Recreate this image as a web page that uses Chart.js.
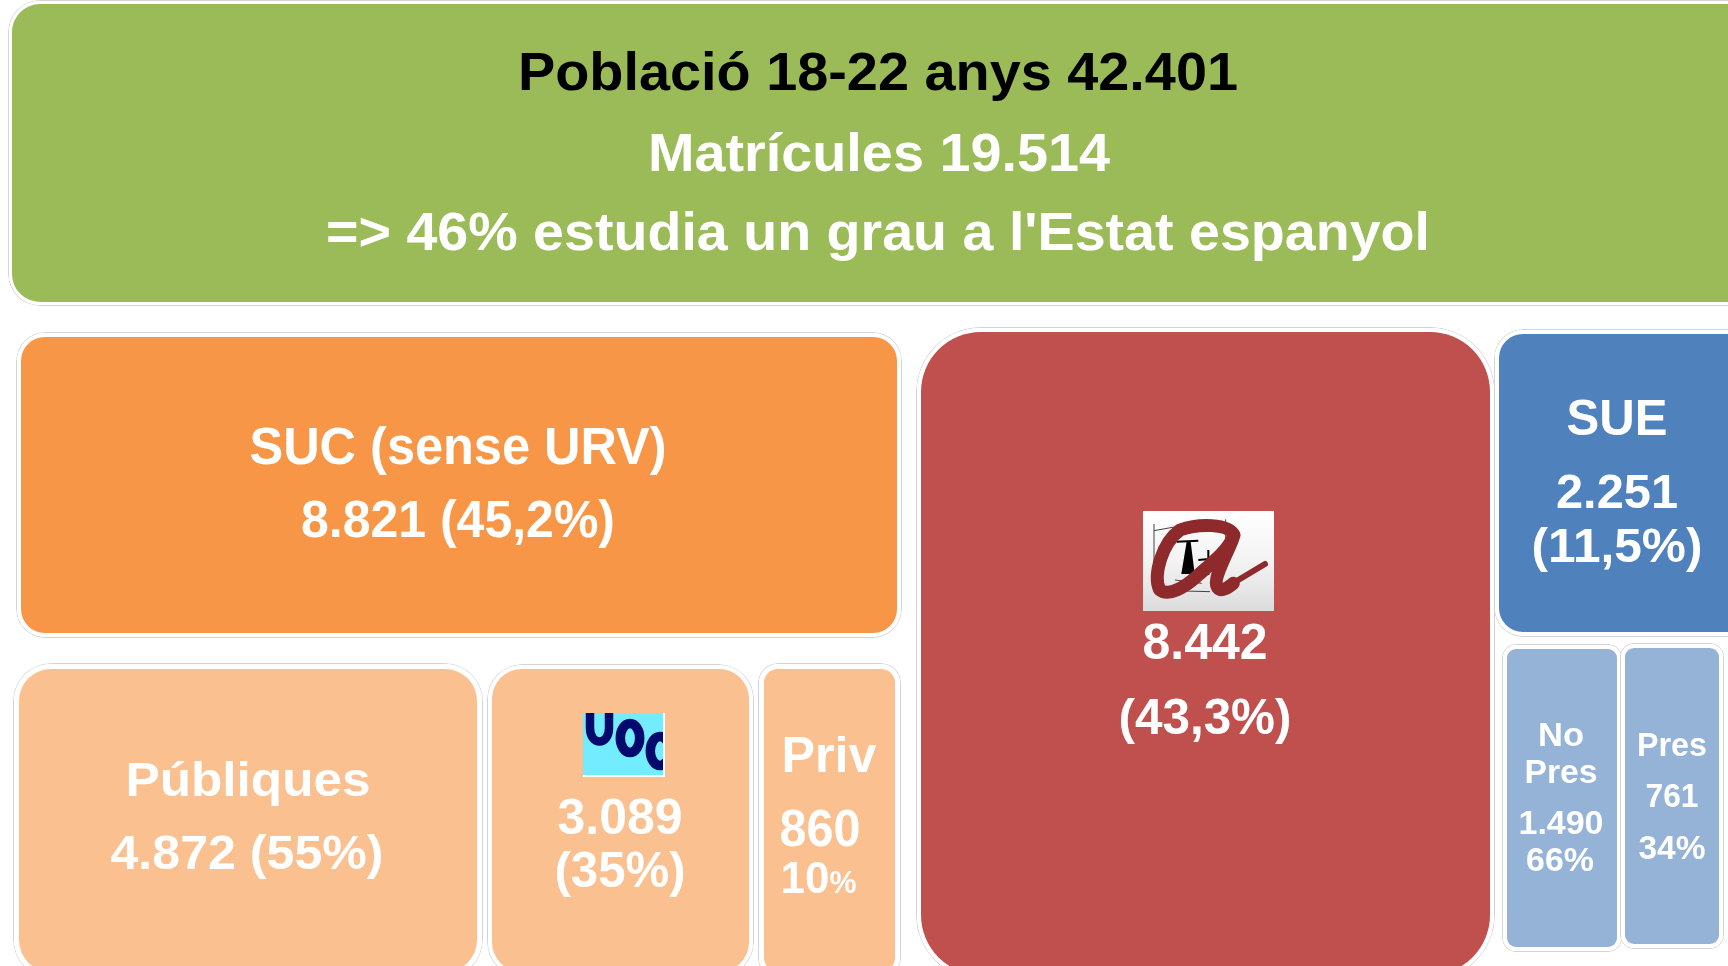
<!DOCTYPE html>
<html>
<head>
<meta charset="utf-8">
<style>html,body{margin:0;padding:0;background:#fff;overflow:hidden}canvas{display:block}</style>
<script src="https://cdn.jsdelivr.net/npm/chart.js@4"></script>
</head>
<body>
<canvas id="c" width="1728" height="966"></canvas>
<script>
// ---- values ----
const poblacio = 42401;
const matricules = 19514;
const quotaEstat = 46;
const categories = ['Total','SUC','Públiques','UOC','Priv','URV','SUE','No Pres','Pres'];
const enrolment = [19514, 8821, 4872, 3089, 860, 8442, 2251, 1490, 761];
const shareLabels = ['', '45,2%', '55%', '35%', '10%', '43,3%', '11,5%', '66%', '34%'];

// ---- layout of the cells, in units of the hidden grid scales (the treemap is not to scale) ----
const cellLeft   = [12, 21, 19, 492, 764, 921, 1499, 1507, 1625];
const cellRight  = [1760, 897, 477, 749, 895, 1490, 1760, 1617, 1719];
const cellTop    = [4, 337, 669, 669, 669, 332, 334, 649, 648];
const cellBottom = [302, 633, 972, 972, 972, 975, 632, 947, 944];
const cellRadius = [28, 24, 32, 30, 14, 60, 24, 9, 9];
const cellColor  = ['#9BBB59','#F79646','#FAC090','#FAC090','#FAC090','#C0504D','#4F81BD','#95B3D7','#95B3D7'];
const ringGap    = [4, 5, 6, 5, 6, 5, 5, 5, 5];

const fmt = n => String(n).replace(/\B(?=(\d{3})+(?!\d))/g, '.');
const W = '#ffffff';
// text, centre x, baseline y, width, font size, colour
const textLines = [
  [`Població 18-22 anys ${fmt(poblacio)}`, 878, 90, 720, 53, '#000000'],
  [`Matrícules ${fmt(matricules)}`, 879, 171, 462, 54, W],
  [`=> ${quotaEstat}% estudia un grau a l'Estat espanyol`, 878, 250, 1104, 53, W],
  [`SUC (sense URV)`, 458, 464, 417, 51, W],
  [`${fmt(enrolment[1])} (${shareLabels[1]})`, 458, 537, 314, 51, W],
  [`Públiques`, 248, 796, 245, 49, W],
  [`${fmt(enrolment[2])} (${shareLabels[2]})`, 247, 869, 273, 49, W],
  [`${fmt(enrolment[3])}`, 620, 834, 125, 50, W],
  [`(${shareLabels[3]})`, 620, 887, 131, 50, W],
  [`Priv`, 829, 772, 95, 50, W],
  [`${fmt(enrolment[4])}`, 820, 846, 81, 52, W],
  [shareLabels[4].replace('%',''), 805, 893, 49, 44, W],
  ['%', 843, 893, 27, 32, W],
  [`${fmt(enrolment[5])}`, 1205, 659, 125, 50, W],
  [`(${shareLabels[5]})`, 1205, 734, 173, 50, W],
  [`SUE`, 1617, 435, 101, 50, W],
  [`${fmt(enrolment[6])}`, 1617, 508, 122, 49, W],
  [`(${shareLabels[6]})`, 1617, 562, 171, 49, W],
  [`No`, 1561, 746, 46, 34, W],
  [`Pres`, 1561, 783, 73, 34, W],
  [`${fmt(enrolment[7])}`, 1561, 834, 85, 33, W],
  [shareLabels[7], 1560, 871, 68, 33, W],
  [`Pres`, 1672, 756, 70, 34, W],
  [`${fmt(enrolment[8])}`, 1672, 807, 53, 33, W],
  [shareLabels[8], 1672, 859, 67, 33, W]
];

function drawUoc(ctx, px, py) {
  const l = px(583), t = py(713), r = px(665), b = py(777);
  ctx.save();
  ctx.fillStyle = '#ffffff'; ctx.fillRect(l, t, r - l, b - t);
  ctx.fillStyle = '#74ecff'; ctx.fillRect(l, t, r - l - 2, b - t - 2);
  ctx.beginPath(); ctx.rect(l, t, r - l - 2, b - t - 2); ctx.clip();
  ctx.strokeStyle = '#020a6e'; ctx.lineWidth = 8.5; ctx.lineCap = 'butt';
  ctx.beginPath();
  ctx.moveTo(px(590), py(705)); ctx.lineTo(px(590), py(728));
  ctx.bezierCurveTo(px(590), py(746), px(609), py(746), px(609), py(728));
  ctx.lineTo(px(609), py(705));
  ctx.stroke();
  ctx.lineWidth = 9.5;
  ctx.beginPath(); ctx.ellipse(px(630), py(738), 9.7, 14.5, 0, 0, Math.PI * 2); ctx.stroke();
  ctx.beginPath(); ctx.ellipse(px(660), py(751), 9.7, 14.5, 0, 0, Math.PI * 2); ctx.stroke();
  ctx.restore();
}

function drawUrv(ctx, px, py) {
  const l = px(1143), t = py(511), r = px(1274), b = py(611);
  const X = v => px(1130 + v / 3), Y = v => py(500 + v / 3);
  ctx.save();
  const g = ctx.createLinearGradient(0, t, 0, b);
  g.addColorStop(0, '#ffffff'); g.addColorStop(0.5, '#f3f3f3'); g.addColorStop(1, '#dcdcdc');
  ctx.fillStyle = g; ctx.fillRect(l, t, r - l, b - t);
  // engraved emblem
  ctx.strokeStyle = '#444'; ctx.lineWidth = 1;
  ctx.beginPath();
  ctx.moveTo(X(72), Y(72)); ctx.lineTo(X(72), Y(250)); ctx.lineTo(X(120), Y(272)); ctx.lineTo(X(240), Y(275));
  ctx.moveTo(X(72), Y(92)); ctx.lineTo(X(150), Y(78));
  ctx.moveTo(X(287), Y(58)); ctx.lineTo(X(287), Y(210));
  ctx.moveTo(X(135), Y(240)); ctx.lineTo(X(215), Y(250));
  ctx.stroke();
  ctx.strokeStyle = '#000'; ctx.lineWidth = 2;
  ctx.beginPath();
  ctx.moveTo(X(140), Y(125)); ctx.lineTo(X(205), Y(122));
  ctx.moveTo(X(205), Y(180)); ctx.lineTo(X(262), Y(175));
  ctx.moveTo(X(235), Y(150)); ctx.lineTo(X(235), Y(225));
  ctx.stroke();
  ctx.fillStyle = '#000';
  ctx.beginPath();
  ctx.moveTo(X(170), Y(125)); ctx.lineTo(X(182), Y(125)); ctx.lineTo(X(194), Y(222)); ctx.lineTo(X(154), Y(222));
  ctx.closePath(); ctx.fill();
  // red stroke
  ctx.strokeStyle = '#8f2a2c'; ctx.lineWidth = 13; ctx.lineCap = 'round'; ctx.lineJoin = 'round';
  ctx.beginPath();
  ctx.moveTo(X(312), Y(105));
  ctx.bezierCurveTo(X(295), Y(70), X(205), Y(70), X(150), Y(90));
  ctx.bezierCurveTo(X(95), Y(130), X(70), Y(225), X(88), Y(268));
  ctx.bezierCurveTo(X(115), Y(292), X(165), Y(262), X(205), Y(225));
  ctx.bezierCurveTo(X(250), Y(185), X(295), Y(150), X(312), Y(105));
  ctx.bezierCurveTo(X(300), Y(150), X(245), Y(235), X(262), Y(262));
  ctx.bezierCurveTo(X(275), Y(278), X(295), Y(262), X(310), Y(250));
  ctx.stroke();
  ctx.lineWidth = 6;
  ctx.beginPath(); ctx.moveTo(X(305), Y(252)); ctx.lineTo(X(405), Y(192)); ctx.stroke();
  ctx.restore();
}

const slidePlugin = {
  id: 'slide',
  afterDatasetsDraw(chart) {
    const { ctx, scales } = chart;
    const px = v => scales.x.getPixelForValue(v), py = v => scales.y.getPixelForValue(v);
    drawUoc(ctx, px, py);
    drawUrv(ctx, px, py);
    ctx.save();
    ctx.textAlign = 'center';
    ctx.textBaseline = 'alphabetic';
    ctx.filter = 'blur(0.5px)';
    for (const [t, cx, base, w, size, col] of textLines) {
      ctx.font = `bold ${size}px "Liberation Sans", Arial, sans-serif`;
      ctx.fillStyle = col;
      const k = w / ctx.measureText(t).width;
      ctx.save();
      ctx.translate(px(cx), py(base));
      ctx.scale(k, 1);
      ctx.fillText(t, 0, 0);
      ctx.restore();
    }
    ctx.restore();
  }
};

const cellDataset = (i, grow, color, border, order) => {
  const t = cellTop[i] - grow, b = cellBottom[i] + grow;
  return {
    label: categories[i] + (grow ? ' ring' : ''),
    data: [{ x: [cellLeft[i] - grow, cellRight[i] + grow], y: (t + b) / 2, v: enrolment[i] }],
    barThickness: b - t,
    grouped: false,
    backgroundColor: color,
    borderColor: border,
    borderWidth: grow ? 1 : 0,
    borderSkipped: false,
    borderRadius: cellRadius[i] + grow,
    inflateAmount: 0,
    order
  };
};

const datasets = [];
categories.forEach((c, i) => {
  datasets.push(cellDataset(i, ringGap[i], '#ffffff', '#d4d4d4', 100 - i * 2));
  datasets.push(cellDataset(i, 0, cellColor[i], cellColor[i], 99 - i * 2));
});

new Chart(document.getElementById('c'), {
  type: 'bar',
  data: { datasets },
  options: {
    indexAxis: 'y',
    responsive: false,
    animation: false,
    layout: { padding: 0 },
    plugins: { legend: { display: false }, tooltip: { enabled: false }, title: { display: false } },
    scales: {
      x: { type: 'linear', min: 0, max: 1728, display: false },
      y: { type: 'linear', min: 0, max: 966, reverse: true, display: false, offset: false }
    }
  },
  plugins: [slidePlugin]
});
</script>
</body>
</html>
